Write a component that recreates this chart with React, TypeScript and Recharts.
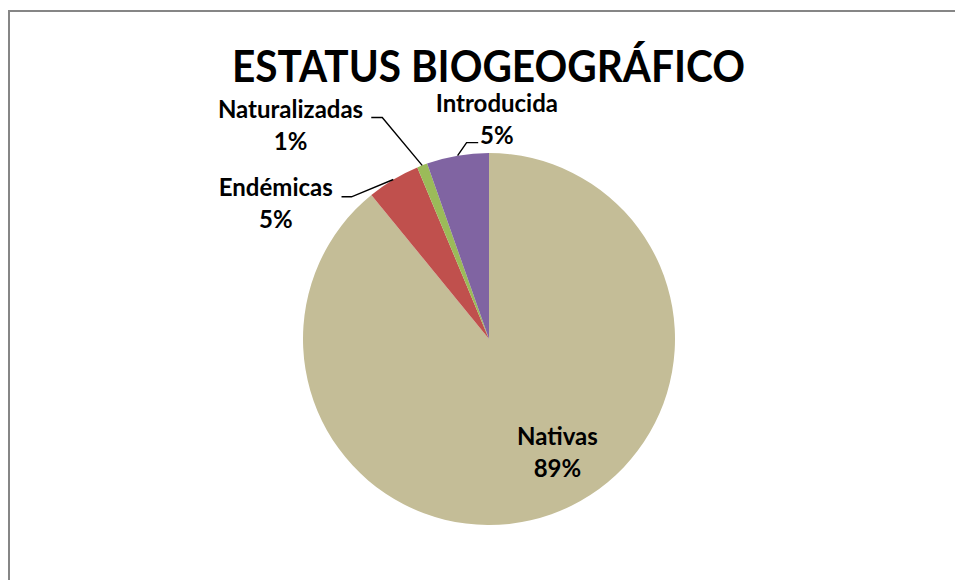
import { Pie, PieChart, Cell } from 'recharts';

const categories = ['Nativas', 'Endémicas', 'Naturalizadas', 'Introducida'];
const shares = [89.1, 4.6, 0.9, 5.4];
const colors = ['#C4BD97', '#C0504D', '#9BBB59', '#8064A2'];

// where each label sits, relative to the point on the rim at the middle of its slice
const labelLayout = [
  { dx: 6, dy: -69, line: null },
  { dx: -117.5, dy: 16.3, line: { ex: -41.8, ey: 17.3, hx: -51.8 } },
  { dx: -131.6, dy: -47.9, line: { ex: -39.9, ey: -47.9, hx: -50.9 } },
  { dx: 39.3, dy: -43.7, line: { ex: 9, ey: -13, hx: 20.6 } },
];

const data = categories.map((name, i) => ({ name, value: shares[i] }));

const RAD = Math.PI / 180;
const font = 'Lato, "Open Sans", sans-serif';

function renderLabel(props: any) {
  const { cx, cy, midAngle, outerRadius, index, percent, name } = props;
  const x0 = cx + outerRadius * Math.cos(-midAngle * RAD);
  const y0 = cy + outerRadius * Math.sin(-midAngle * RAD);
  const lay = labelLayout[index];
  const tx = x0 + lay.dx;
  const ty = y0 + lay.dy;
  return (
    <g key={`lbl-${index}`}>
      {lay.line && (
        <polyline
          points={`${x0},${y0} ${x0 + lay.line.ex},${y0 + lay.line.ey} ${x0 + lay.line.hx},${y0 + lay.line.ey}`}
          fill="none"
          stroke="#000"
          strokeWidth={1.4}
        />
      )}
      <text x={tx} y={ty} textAnchor="middle" fontFamily={font} fontWeight={700} fontSize={24} fill="#000">
        <tspan x={tx} y={ty}>{name}</tspan>
        <tspan x={tx} y={ty + 32}>{`${Math.round(percent * 100)}%`}</tspan>
      </text>
    </g>
  );
}

export default function App() {
  return (
    <div style={{ position: 'fixed', left: 0, top: 0, width: 955, height: 580, overflow: 'hidden', background: '#fff' }}>
      <svg width={955} height={580} style={{ position: 'absolute', left: 0, top: 0, display: 'block' }}>
        <line x1={9} y1={10} x2={9} y2={580} stroke="#868686" strokeWidth={2} />
        <line x1={8} y1={11} x2={960} y2={11} stroke="#868686" strokeWidth={2} />
        <text
          x={488.5}
          y={81.7}
          textAnchor="middle"
          fontFamily={font}
          fontWeight={700}
          fontSize={44}
          textLength={513}
          lengthAdjust="spacingAndGlyphs"
          fill="#000"
        >
          ESTATUS BIOGEOGRÁFICO
        </text>
      </svg>
      <div style={{ position: 'absolute', left: 0, top: 0 }}>
        <PieChart width={700} height={580} margin={{ top: 0, right: 0, bottom: 0, left: 0 }}>
          <Pie
            data={data}
            dataKey="value"
            nameKey="name"
            cx={489}
            cy={339}
            outerRadius={186}
            startAngle={90}
            endAngle={-270}
            stroke="none"
            label={renderLabel}
            labelLine={false}
            isAnimationActive={false}
          >
            {data.map((d, i) => (
              <Cell key={d.name} fill={colors[i]} />
            ))}
          </Pie>
        </PieChart>
      </div>
    </div>
  );
}
